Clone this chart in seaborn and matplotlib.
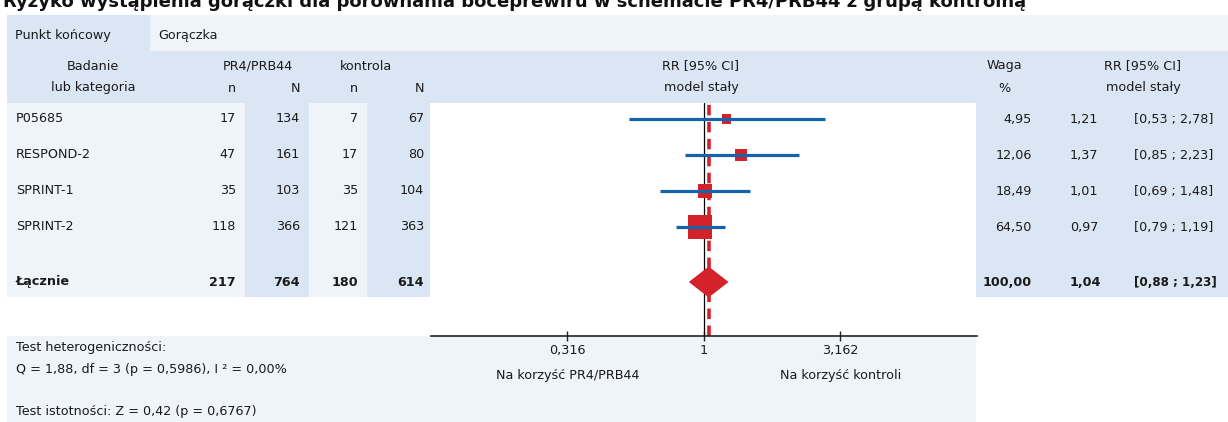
import numpy as np
import pandas as pd
import matplotlib
matplotlib.use("Agg")
import matplotlib.pyplot as plt
from matplotlib.patches import Rectangle, Polygon
import seaborn as sns

# ---- data -------------------------------------------------------------
studies = ["P05685", "RESPOND-2", "SPRINT-1", "SPRINT-2"]
n_trt = [17, 47, 35, 118]
N_trt = [134, 161, 103, 366]
n_ctl = [7, 17, 35, 121]
N_ctl = [67, 80, 104, 363]
weights = [4.95, 12.06, 18.49, 64.50]
rr = [1.21, 1.37, 1.01, 0.97]
ci_low = [0.53, 0.85, 0.69, 0.79]
ci_high = [2.78, 2.23, 1.48, 1.19]

total_label = "Łącznie"
total_counts = [217, 764, 180, 614]
total_weight = 100.00
total_rr = 1.04
total_low = 0.88
total_high = 1.23

axis_ticks = [0.316, 1, 3.162]
axis_tick_labels = ["0,316", "1", "3,162"]

title = "Ryzyko wystąpienia gorączki dla porównania boceprewiru w schemacie PR4/PRB44 z grupą kontrolną"
endpoint_label = "Punkt końcowy"
endpoint = "Gorączka"
favours_left = "Na korzyść PR4/PRB44"
favours_right = "Na korzyść kontroli"
footer_lines = ["Test heterogeniczności:",
                "Q = 1,88, df = 3 (p = 0,5986), I ² = 0,00%",
                "Test istotności: Z = 0,42 (p = 0,6767)"]

# ---- style ------------------------------------------------------------
sns.set_theme(style="white")
plt.rcParams["font.family"] = ["DejaVu Sans"]
FS = 9.2

HEAD = "#dae6f3"
LIGHT = "#eef4fa"
RED = "#d3222a"
BLUE = "#1463ad"

W, H = 1228, 422
fig = plt.figure(figsize=(W / 100, H / 100), dpi=100)
bg = fig.add_axes([0, 0, 1, 1])
bg.set_xlim(0, W)
bg.set_ylim(H, 0)
bg.axis("off")


def rect(x0, y0, x1, y1, color):
    bg.add_patch(Rectangle((x0, y0), x1 - x0, y1 - y0, color=color, lw=0, zorder=0))


def txt(x, y, s, ha="left", bold=False, size=FS, **kw):
    bg.text(x, y, s, ha=ha, va="center", fontsize=size,
            fontweight="bold" if bold else "normal", color="#1a1a1a", **kw)


def fmt(v):
    return f"{v:.2f}".replace(".", ",")


# title (top edge of the canvas trims it)
bg.text(3, 7, title, ha="left", va="baseline", fontsize=13, fontweight="bold",
        color="#111111")

# background bands
rect(7, 15, 150, 51, HEAD)
rect(150, 15, W, 51, LIGHT)
rect(7, 51, W, 103, HEAD)
rect(7, 103, 430, 297, LIGHT)
rect(245, 103, 309, 297, HEAD)
rect(367, 103, 430, 297, HEAD)
rect(976, 103, W, 297, HEAD)
rect(7, 336, 976, H, LIGHT)

# endpoint row
txt(15, 35, endpoint_label)
txt(158, 35, endpoint)

# column headers
y1, y2 = 66, 88
txt(93, y1, "Badanie", ha="center")
txt(93, y2, "lub kategoria", ha="center")
txt(258, y1, "PR4/PRB44", ha="center")
txt(366, y1, "kontrola", ha="center")
for xr, s in [(236, "n"), (300, "N"), (358, "n"), (424, "N")]:
    txt(xr, y2, s, ha="right")
txt(701, y1, "RR [95% CI]", ha="center")
txt(701, y2, "model stały", ha="center")
txt(1004, y1, "Waga", ha="center")
txt(1004, y2, "%", ha="center")
txt(1143, y1, "RR [95% CI]", ha="center")
txt(1143, y2, "model stały", ha="center")

# table rows
row_y = [119, 155, 191, 227]
total_y = 282
for i, name in enumerate(studies):
    y = row_y[i]
    txt(16, y, name)
    for xr, v in zip([236, 300, 358, 424], [n_trt[i], N_trt[i], n_ctl[i], N_ctl[i]]):
        txt(xr, y, str(v), ha="right")
    txt(1032, y, fmt(weights[i]), ha="right")
    txt(1070, y, fmt(rr[i]))
    txt(1134, y, f"[{fmt(ci_low[i])} ; {fmt(ci_high[i])}]")

txt(16, total_y, total_label, bold=True)
for xr, v in zip([236, 300, 358, 424], total_counts):
    txt(xr, total_y, str(v), ha="right", bold=True)
txt(1032, total_y, fmt(total_weight), ha="right", bold=True)
txt(1070, total_y, fmt(total_rr), bold=True)
txt(1134, total_y, f"[{fmt(total_low)} ; {fmt(total_high)}]", bold=True, size=FS - 0.6)

# footer statistics
for y, s in zip([347, 370, 411], footer_lines):
    txt(16, y, s)

# ---- forest panel -----------------------------------------------------
ax_left, ax_right, ax_top, ax_bottom = 431, 977, 103, 336
ax = fig.add_axes([ax_left / W, (H - ax_bottom) / H,
                   (ax_right - ax_left) / W, (ax_bottom - ax_top) / H])
ax.set_facecolor("none")
ax.set_xscale("log")
ax.set_xlim(0.1, 10)
row_pitch = 36.0
ylo = (ax_top - row_y[0]) / row_pitch
yhi = (ax_bottom - row_y[0]) / row_pitch
ax.set_ylim(yhi, ylo)

df = pd.DataFrame({"study": studies, "rr": rr, "lo": ci_low, "hi": ci_high,
                   "weight": weights, "pos": np.arange(len(studies), dtype=float)})
total_pos = (total_y - row_y[0]) / row_pitch

ax.axvline(1, color="black", lw=0.9, zorder=1)
ax.axvline(total_rr, color=RED, lw=2.6, linestyle=(0, (2.9, 1.8)), zorder=2)

sns.scatterplot(data=df, x="rr", y="pos", size="weight", sizes=(45, 300),
                marker="s", color=RED, linewidth=0, legend=False, ax=ax, zorder=3)
ax.hlines(df["pos"], df["lo"], df["hi"], color=BLUE, lw=2.3, zorder=4)

half_h = 0.43
ax.add_patch(Polygon([(total_low, total_pos), (total_rr, total_pos - half_h),
                      (total_high, total_pos), (total_rr, total_pos + half_h)],
                     closed=True, color=RED, lw=0, zorder=5))

for s in ["top", "left", "right"]:
    ax.spines[s].set_visible(False)
ax.spines["bottom"].set_color("#222222")
ax.spines["bottom"].set_linewidth(1.2)
ax.set_xticks(axis_ticks)
ax.set_xticklabels(axis_tick_labels)
ax.xaxis.set_minor_locator(matplotlib.ticker.NullLocator())
ax.tick_params(axis="x", direction="inout", length=7, width=1, color="#222222",
               labelsize=FS, pad=2, bottom=True, labelcolor="#1a1a1a")
ax.set_yticks([])
ax.set_xlabel("")
ax.set_ylabel("")

# favour labels under the axis
for xv, s in [(axis_ticks[0], favours_left), (axis_ticks[2], favours_right)]:
    px = ax_left + (np.log10(xv) + 1) / 2 * (ax_right - ax_left)
    txt(px, 375, s, ha="center")

fig.savefig("out.png", dpi=100)
